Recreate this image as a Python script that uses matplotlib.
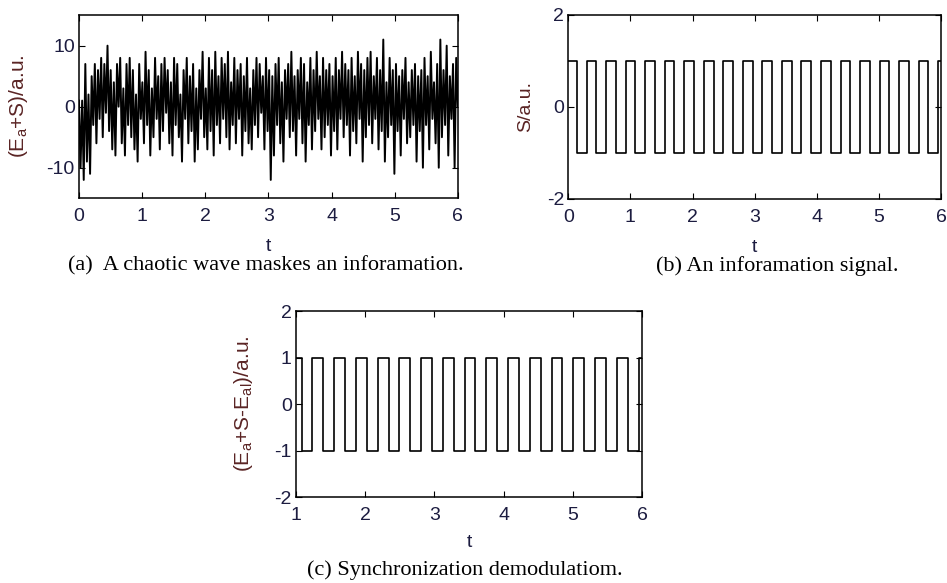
import numpy as np
import matplotlib.pyplot as plt

plt.rcParams['font.family'] = ['Liberation Sans', 'DejaVu Sans']
plt.rcParams['mathtext.fontset'] = 'custom'
plt.rcParams['mathtext.rm'] = 'Liberation Sans'
plt.rcParams['mathtext.it'] = 'Liberation Sans'
plt.rcParams['axes.unicode_minus'] = False

# chaotic wave + information signal, 40 samples per unit t
masked_wave = [
    1, -10, 1, -12, 7, -9, 2, -11, 5, -3, 7, -6, 6, -2, 8, -5, 7, -1, 10, -4,
    6, -7, 4, -8, 7, 0, 8, -6, 3, -8, 7, -3, 8, -5, 6, -7, 2, -9, 7, -2,
    4, -6, 9, -3, 6, -8, 3, -5, 8, -2, 5, -7, 7, -4, 8, -1, 6, -6, 4, -8,
    8, -3, 7, -5, 2, -9, 6, -2, 8, -6, 5, -4, 7, -9, 3, -7, 6, -2, 9, -5,
    3, -7, 8, -4, 6, -8, 9, -3, 5, -6, 8, -2, 7, -5, 9, -7, 4, -3, 8, -6,
    6, -2, 7, -8, 5, -4, 8, -6, 3, -7, 6, -3, 8, -5, 7, -1, 5, -7, 8, -4,
    6, -12, 5, -8, 7, -3, 8, -6, 4, -9, 6, -2, 7, -5, 9, -4, 5, -8, 6, -2,
    8, -6, 7, -9, 4, -3, 8, -7, 6, -4, 9, -2, 5, -7, 8, -5, 6, -3, 7, -8,
    5, -4, 8, -7, 6, -2, 9, -5, 7, -3, 6, -8, 8, -4, 5, -6, 9, -2, 7, -9,
    6, -5, 8, -3, 9, -6, 5, -2, 8, -7, 6, -4, 11, -9, 4, -5, 8, -3, 6, -11,
    7, -4, 5, -8, 6, -2, 8, -6, 4, -5, 6, -3, 7, -9, 5, -4, 6, -10, 8, -3,
    5, -7, 9, -2, 4, -6, 7, -10, 11, -5, 6, -3, 10, -8, 5, -2, 7, -10, 8, 0,
]
masked_t = np.linspace(0, 6, len(masked_wave))

# square-wave edges (S switches between +1 and -1)
fall_times = [0.138, 0.452, 0.766, 1.080, 1.394, 1.708, 2.023, 2.337, 2.651, 2.965,
              3.279, 3.593, 3.907, 4.222, 4.536, 4.850, 5.164, 5.478, 5.792]
rise_times = [0.295, 0.609, 0.923, 1.237, 1.551, 1.866, 2.180, 2.494, 2.808, 3.122,
              3.436, 3.750, 4.065, 4.379, 4.693, 5.007, 5.321, 5.635, 5.950]

captions = ["(a)  A chaotic wave maskes an inforamation.",
            "(b) An inforamation signal.",
            "(c) Synchronization demodulatiom."]

tick_col = '#1c1c40'
lab_col = '#5a2424'


def square_wave(t0, t1):
    edges = sorted([(t, -1) for t in fall_times] + [(t, 1) for t in rise_times])
    level = 1
    for t, v in edges:
        if t <= t0:
            level = v
    ts, ss = [t0], [level]
    for t, v in edges:
        if t0 < t < t1:
            ts.append(t)
            ss.append(v)
    ts.append(t1)
    ss.append(ss[-1])
    return ts, ss


def style(ax, ylab_x, xlab_y):
    ax.tick_params(direction='in', top=True, right=True, length=4, width=0.8,
                   labelsize=14, labelcolor=tick_col)
    ax.tick_params(axis='x', pad=7)
    ax.tick_params(axis='y', pad=3)
    for sp in ax.spines.values():
        sp.set_linewidth(1.1)
    ax.set_xlabel('t', fontsize=14, color=tick_col)
    ax.xaxis.set_label_coords(0.5, xlab_y)
    ax.yaxis.set_label_coords(ylab_x, 0.5)


fig = plt.figure(figsize=(9.47, 5.83), dpi=100)

ax1 = fig.add_axes([0.0834, 0.660, 0.400, 0.314])
ax1.plot(masked_t, masked_wave, color='black', lw=1.4)
ax1.set_xlim(0, 6)
ax1.set_ylim(-15, 15)
ax1.set_yticks([-10, 0, 10])
ax1.set_xticks(range(0, 7))
ax1.set_ylabel('(E$_\\mathregular{a}$+S)/a.u.', fontsize=15, color=lab_col)
style(ax1, -0.128, -0.215)

ax2 = fig.add_axes([0.600, 0.6587, 0.394, 0.3156])
tb, sb = square_wave(0, 6)
ax2.plot(tb, sb, drawstyle='steps-post', color='black', lw=1.2)
ax2.set_xlim(0, 6)
ax2.set_ylim(-2, 2)
ax2.set_yticks([-2, 0, 2])
ax2.set_xticks(range(0, 7))
ax2.set_ylabel('S/a.u.', fontsize=14, color=lab_col)
style(ax2, -0.092, -0.215)

ax3 = fig.add_axes([0.3126, 0.1475, 0.3654, 0.319])
tc, sc = square_wave(1, 6)
ax3.plot(tc, sc, drawstyle='steps-post', color='black', lw=1.2)
ax3.set_xlim(1, 6)
ax3.set_ylim(-2, 2)
ax3.set_yticks([-2, -1, 0, 1, 2])
ax3.set_xticks(range(1, 7))
ax3.set_ylabel('(E$_\\mathregular{a}$+S-E$_\\mathregular{al}$)/a.u.', fontsize=15,
               color=lab_col)
style(ax3, -0.12, -0.2)

cap_font = dict(family=['Liberation Serif', 'DejaVu Serif'], fontsize=16, color='black')
fig.text(266 / 947, 1 - 266 / 583, captions[0], ha='center', va='center', **cap_font)
fig.text(777 / 947, 1 - 266 / 583, captions[1], ha='center', va='center', **cap_font)
fig.text(465 / 947, 1 - 570 / 583, captions[2], ha='center', va='center', **cap_font)

fig.savefig('out.png', dpi=100)
